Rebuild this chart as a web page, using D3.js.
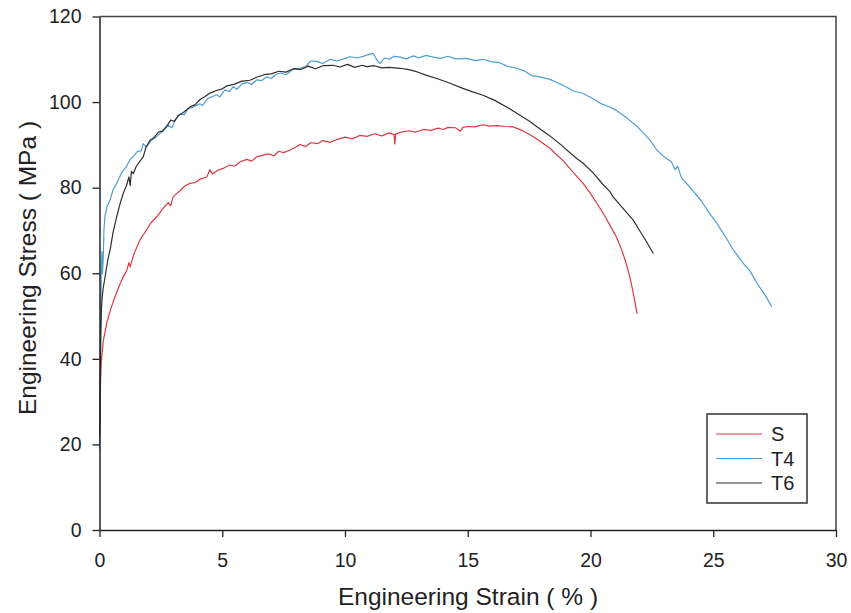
<!DOCTYPE html>
<html>
<head>
<meta charset="utf-8">
<script src="https://cdn.jsdelivr.net/npm/d3@7"></script>
<style>
  body { margin: 0; background: #fff; }
  text { font-family: "Liberation Sans", Arial, sans-serif; fill: #222; }
</style>
</head>
<body>
<script>
// series values: [strain %, stress MPa]
let seriesS = [[0.02,25],[0.04,34],[0.07,39],[0.15,44],[0.3,48.5],[0.45,51.5],[0.6,54],[0.8,57],[0.97,59.2],[1.1,60.5],[1.2,62.5],[1.25,61.5],[1.4,64.5],[1.65,67.8],[1.9,70],[2.1,71.8],[2.33,73.2],[2.6,75.2],[2.8,76.5],[2.9,75.8],[3.0,77.9],[3.3,79.4],[3.5,80.5],[3.69,81],[3.9,81.2],[4.1,82],[4.37,82.5],[4.5,84.2],[4.6,83.2],[4.8,84],[5.03,84.5],[5.3,85.3],[5.5,85],[5.72,86],[6.0,86.6],[6.2,86.2],[6.4,87.2],[6.66,87.6],[6.9,87.9],[7.1,87.4],[7.3,88.5],[7.5,88.2],[7.76,88.8],[8.0,89.5],[8.17,90.1],[8.4,89.6],[8.6,90.5],[8.9,90.3],[9.1,91],[9.4,90.6],[9.7,91.3],[10.0,91.8],[10.3,91.4],[10.6,92.2],[10.9,92],[11.2,92.6],[11.5,92.1],[11.8,92.8],[12.0,92.4],[12.03,90.2],[12.06,92.5],[12.3,93],[12.6,93.3],[12.9,93],[13.2,93.6],[13.5,93.4],[13.8,93.9],[14.0,93.6],[14.2,94.1],[14.5,94],[14.7,93.2],[14.8,94.1],[15.0,94.3],[15.3,94.2],[15.6,94.7],[15.9,94.4],[16.2,94.5],[16.5,94.3],[16.85,94.2],[17.2,93.4],[17.5,92.5],[17.67,91.9],[18.0,90.6],[18.35,89.2],[18.6,87.8],[18.9,86.2],[19.2,84.2],[19.45,82.6],[19.7,81],[20.0,78.6],[20.3,76],[20.6,73.2],[20.85,70.6],[21.07,68.3],[21.3,65],[21.45,62.3],[21.6,59.2],[21.72,56],[21.82,53],[21.9,50.5]];

let seriesT4 = [[0,19],[0.02,30],[0.04,42],[0.06,55],[0.08,62],[0.1,65],[0.12,60],[0.15,63],[0.18,70],[0.22,73.2],[0.3,75.5],[0.43,77.1],[0.55,79.5],[0.7,81],[0.9,83.5],[1.1,85],[1.24,86.5],[1.4,87.5],[1.55,88.5],[1.7,88.6],[1.78,90.3],[1.9,89.5],[2.1,91],[2.3,91.8],[2.46,92.7],[2.6,93.2],[2.8,94.6],[2.95,94],[3.1,96],[3.28,97.2],[3.45,97],[3.6,98.4],[3.8,98.8],[4.09,99.6],[4.2,99.2],[4.4,100.8],[4.6,101.3],[4.77,101.7],[4.9,101.2],[5.1,102.8],[5.3,102.5],[5.45,103.6],[5.6,103],[5.8,104.2],[6.0,104.6],[6.2,104.1],[6.4,105.2],[6.6,105],[6.81,105.9],[7.0,105.5],[7.2,106.5],[7.4,106.8],[7.6,106.4],[7.9,107.7],[8.17,107.9],[8.4,108.3],[8.6,109.6],[8.85,109.5],[9.1,109],[9.4,110],[9.7,109.6],[10.0,110.2],[10.2,110.6],[10.5,110.3],[10.8,110.8],[11.0,111.2],[11.15,111.4],[11.3,109.8],[11.43,109],[11.6,110.3],[11.8,110],[12.0,110.7],[12.24,110.5],[12.5,110.1],[12.8,110.8],[13.0,110.3],[13.3,110.9],[13.6,110.5],[13.9,110.2],[14.2,110.7],[14.5,110.1],[14.96,110.2],[15.3,109.7],[15.6,110],[16.0,109.4],[16.3,109.2],[16.6,108.4],[17.0,107.9],[17.3,107.3],[17.6,106.2],[17.94,105.9],[18.35,105.3],[18.7,104.4],[19.0,103.6],[19.3,102.6],[19.7,102],[20.1,100.8],[20.4,99.7],[20.8,98.8],[21.07,98],[21.5,96.2],[21.9,94.3],[22.2,92.5],[22.42,91.1],[22.7,88.8],[23.0,87.2],[23.3,86],[23.45,84.2],[23.55,85],[23.7,82.4],[23.78,81.8],[24.1,79.8],[24.5,77],[24.8,74.4],[25.14,71.7],[25.5,68.5],[25.8,65.6],[26.2,62.5],[26.5,60.5],[26.8,57.5],[27.1,55],[27.38,52.2]];

let seriesT6 = [[0.01,22],[0.03,35],[0.05,45],[0.08,52],[0.12,55],[0.15,56.5],[0.25,60],[0.35,63.5],[0.43,65.4],[0.55,69.5],[0.7,73.2],[0.85,76.5],[0.97,78.7],[1.1,80.5],[1.2,82.5],[1.25,80.5],[1.3,83.8],[1.38,83.3],[1.5,85],[1.65,86.2],[1.78,87.2],[1.9,89.5],[2.06,91.1],[2.2,91.6],[2.4,93],[2.55,93.2],[2.74,94.4],[2.9,95.8],[3.05,95.5],[3.2,96.8],[3.4,97.5],[3.55,98.2],[3.7,98.9],[3.9,99.4],[4.1,100.6],[4.3,101.3],[4.5,102.1],[4.77,102.7],[5.0,103.1],[5.2,103.8],[5.5,104.2],[5.8,104.9],[6.13,105.1],[6.4,105.8],[6.7,106.4],[7.0,106.6],[7.3,107.2],[7.6,107],[7.9,107.8],[8.2,107.6],[8.5,108.4],[8.8,107.8],[9.1,108.5],[9.5,108.6],[9.8,108.2],[10.1,108.8],[10.4,108.1],[10.7,108.6],[10.88,108.3],[11.2,108.5],[11.5,108],[11.8,108.1],[12.24,107.9],[12.6,107.6],[12.92,107.1],[13.3,106.3],[13.8,105.4],[14.28,104.4],[14.8,103.2],[15.2,102.4],[15.62,101.6],[16.1,100.4],[16.6,98.8],[17.0,97.4],[17.5,95.6],[18.0,93.5],[18.35,92.1],[18.8,90],[19.2,88],[19.44,86.8],[19.7,85.7],[20.1,83.5],[20.5,80.8],[20.8,79],[20.93,77.8],[21.2,76],[21.5,74],[21.74,72.4],[22.0,70],[22.3,67.2],[22.56,64.6]];

let seriesNames = ["S", "T4", "T6"];
let seriesColors = ["#d93a45", "#4f9ed2", "#2e2e2e"];
let xTicks = [0, 5, 10, 15, 20, 25, 30];
let yTicks = [0, 20, 40, 60, 80, 100, 120];

// canvas
let width = 851;
let height = 613;
let margin = {left: 99.5, right: 15, top: 16.5, bottom: 83};
let innerW = width - margin.left - margin.right;
let innerH = height - margin.top - margin.bottom;

let x = d3.scaleLinear().domain([0, 30]).range([0, innerW]);
let y = d3.scaleLinear().domain([0, 120]).range([innerH, 0]);

let svg = d3.select("body").append("svg")
    .attr("width", width).attr("height", height);

let chartGroup = svg.append("g")
    .attr("transform", "translate(" + margin.left + "," + margin.top + ")");

// frame (top and right)
chartGroup.append("path")
    .attr("d", "M0,0H" + innerW + "V" + innerH)
    .attr("fill", "none").attr("stroke", "#444").attr("stroke-width", 1.5);

// lines
let line = d3.line().x(d => x(d[0])).y(d => y(d[1]));
[seriesS, seriesT4, seriesT6].forEach((s, i) => {
    chartGroup.append("path")
        .attr("d", line(s))
        .attr("fill", "none")
        .attr("stroke", seriesColors[i])
        .attr("stroke-width", 1.2)
        .attr("stroke-linejoin", "round");
});

// axes
let xAxis = d3.axisBottom(x).tickValues(xTicks).tickSize(7).tickPadding(16).tickSizeOuter(0);
let yAxis = d3.axisLeft(y).tickValues(yTicks).tickSize(7).tickPadding(11).tickSizeOuter(0);

let gx = chartGroup.append("g")
    .attr("transform", "translate(0," + innerH + ")")
    .call(xAxis);
let gy = chartGroup.append("g").call(yAxis);

[gx, gy].forEach(g => {
    g.selectAll("path.domain").attr("stroke", "#222").attr("stroke-width", 1.5);
    g.selectAll(".tick line").attr("stroke", "#222").attr("stroke-width", 1.3);
    g.selectAll(".tick text").attr("font-size", 19.5)
        .style("font-family", '"Liberation Sans", Arial, sans-serif').attr("fill", "#222");
});

// axis titles
svg.append("text")
    .attr("x", 468).attr("y", 605)
    .attr("text-anchor", "middle").attr("font-size", 24.5)
    .text("Engineering Strain ( % )");

svg.append("text")
    .attr("transform", "translate(36," + 268 + ") rotate(-90)")
    .attr("text-anchor", "middle").attr("font-size", 24.5)
    .text("Engineering Stress ( MPa )");

// legend
let legend = svg.append("g").attr("transform", "translate(707,414)");
legend.append("rect")
    .attr("width", 100).attr("height", 89)
    .attr("fill", "#fff").attr("stroke", "#333").attr("stroke-width", 1.5);
seriesNames.forEach((n, i) => {
    let yy = 20 + i * 24.5;
    legend.append("line")
        .attr("x1", 9).attr("x2", 55).attr("y1", yy).attr("y2", yy)
        .attr("stroke", seriesColors[i]).attr("stroke-width", 1.2);
    legend.append("text")
        .attr("x", 64).attr("y", yy + 7)
        .attr("font-size", 20).text(n);
});
</script>
</body>
</html>
